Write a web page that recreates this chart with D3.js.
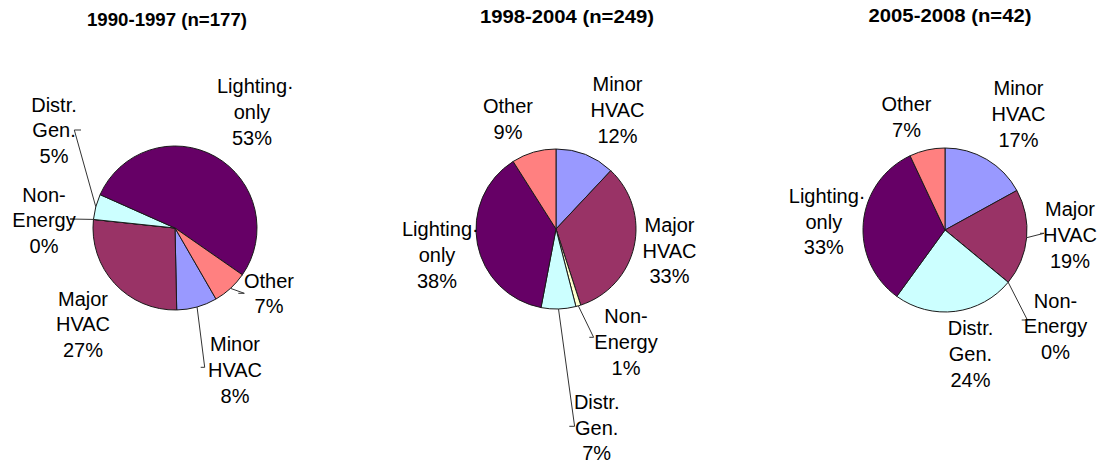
<!DOCTYPE html>
<html><head><meta charset="utf-8">
<script src="https://cdn.jsdelivr.net/npm/d3@7"></script>
<style>body{margin:0;background:#fff} svg{display:block}</style>
</head><body><svg id="c" width="1100" height="465"></svg>
<script>
// ---- data ----
const categories = ["Minor HVAC", "Major HVAC", "Non-Energy", "Distr. Gen.", "Lighting only", "Other"];
const labelLines = [["Minor", "HVAC"], ["Major", "HVAC"], ["Non-", "Energy"], ["Distr.", "Gen."], ["Lighting·", "only"], ["Other"]];
const values1990_1997 = [8, 27, 0, 5, 53, 7];
const values1998_2004 = [12, 33, 1, 7, 38, 9];
const values2005_2008 = [17, 19, 0, 24, 33, 7];
const titles = ["1990-1997 (n=177)", "1998-2004 (n=249)", "2005-2008 (n=42)"];
const colors = ["#9999FF", "#993366", "#FFFFCC", "#CCFFFF", "#660066", "#FF8080"];
const seriesValues = [values1990_1997, values1998_2004, values2005_2008];

// ---- layout (positions / styles) ----
const layout = [
  {cx: 175, cy: 228, r: 82, start: 150, title: {x: 167, y: 26, w: 160},
   labels: [[60, 123], [-92, 77.5], [-131, -26.5], [-121, -116.5], [77, -135], [94, 59.5]],
   leaders: [[25.7, 139.3, -4], null, [-100, -9, 5], [-94, -98, 6.7], null, [63.3, 65.3, -6]]},
  {cx: 556, cy: 229, r: 80, start: 0, title: {x: 567, y: 23.3, w: 174},
   labels: [[61.5, -138], [113.5, 2.7], [70, 94], [40.7, 179.8], [-119, 7], [-48, -116]],
   leaders: [null, null, [33.3, 108.3, -4.3], [13.3, 197.3, -5.3], null, null]},
  {cx: 945, cy: 230, r: 82, start: 0, title: {x: 950, y: 21.7, w: 163},
   labels: [[73.5, -135], [125, -13.7], [110.5, 77.5], [25.5, 105], [-121.2, -27.3], [-38.5, -119.3]],
   leaders: [null, [95, 3.3, -4], [76.7, 90, -5.7], null, null, null]}
];
const FONT = "'Liberation Sans', Arial, sans-serif";
const LINE_H = 25.8;

const svg = d3.select("#c");
const color = d3.scaleOrdinal().domain(categories).range(colors);

seriesValues.forEach((vals, i) => {
  const L = layout[i];
  const s = L.start * Math.PI / 180;
  const pie = d3.pie().sort(null).startAngle(s).endAngle(s + 2 * Math.PI)
    .value(d => d.value);
  const data = categories.map((c, k) => ({cat: c, value: vals[k], k}));
  const arcs = pie(data);
  const arc = d3.arc().innerRadius(0).outerRadius(L.r);
  const edge = d3.arc().innerRadius(L.r).outerRadius(L.r);

  // title
  svg.append("text")
    .attr("x", L.title.x).attr("y", L.title.y)
    .attr("text-anchor", "middle")
    .attr("font-family", FONT).attr("font-weight", "bold").attr("font-size", 18.6)
    .attr("textLength", L.title.w).attr("lengthAdjust", "spacingAndGlyphs")
    .attr("fill", "#000")
    .text(titles[i]);

  const g = svg.append("g").attr("transform", `translate(${L.cx},${L.cy})`);
  g.selectAll("path.slice").data(arcs).join("path")
    .attr("class", "slice")
    .attr("d", arc)
    .attr("fill", d => color(d.data.cat))
    .attr("stroke", "#1a1a1a").attr("stroke-width", 1).attr("stroke-linejoin", "round");

  // leader lines
  arcs.forEach(d => {
    const ld = L.leaders[d.data.k];
    if (!ld) return;
    const p = edge.centroid(d);
    const pts = [p, [ld[0] - ld[2], ld[1]], [ld[0], ld[1]]];
    g.append("path")
      .attr("d", d3.line()(pts))
      .attr("fill", "none").attr("stroke", "#333").attr("stroke-width", 1);
  });

  // labels
  arcs.forEach(d => {
    const k = d.data.k;
    const [lx, ly] = L.labels[k];
    const lines = labelLines[k].concat([d.data.value + "%"]);
    lines.forEach((ln, j) => {
      const dot = ln.endsWith("·");
      const txt = dot ? ln.slice(0, -1) : ln;
      const t = g.append("text")
        .attr("x", lx).attr("y", ly + j * LINE_H)
        .attr("text-anchor", "middle")
        .attr("font-family", FONT).attr("font-size", 20).attr("fill", "#000")
        .text(txt);
      if (dot) {
        const w = t.node().getComputedTextLength();
        g.append("text")
          .attr("x", lx + w / 2).attr("y", ly + j * LINE_H)
          .attr("font-family", FONT).attr("font-size", 20).attr("fill", "#000")
          .text("·");
      }
    });
  });
});
</script>
</body></html>
